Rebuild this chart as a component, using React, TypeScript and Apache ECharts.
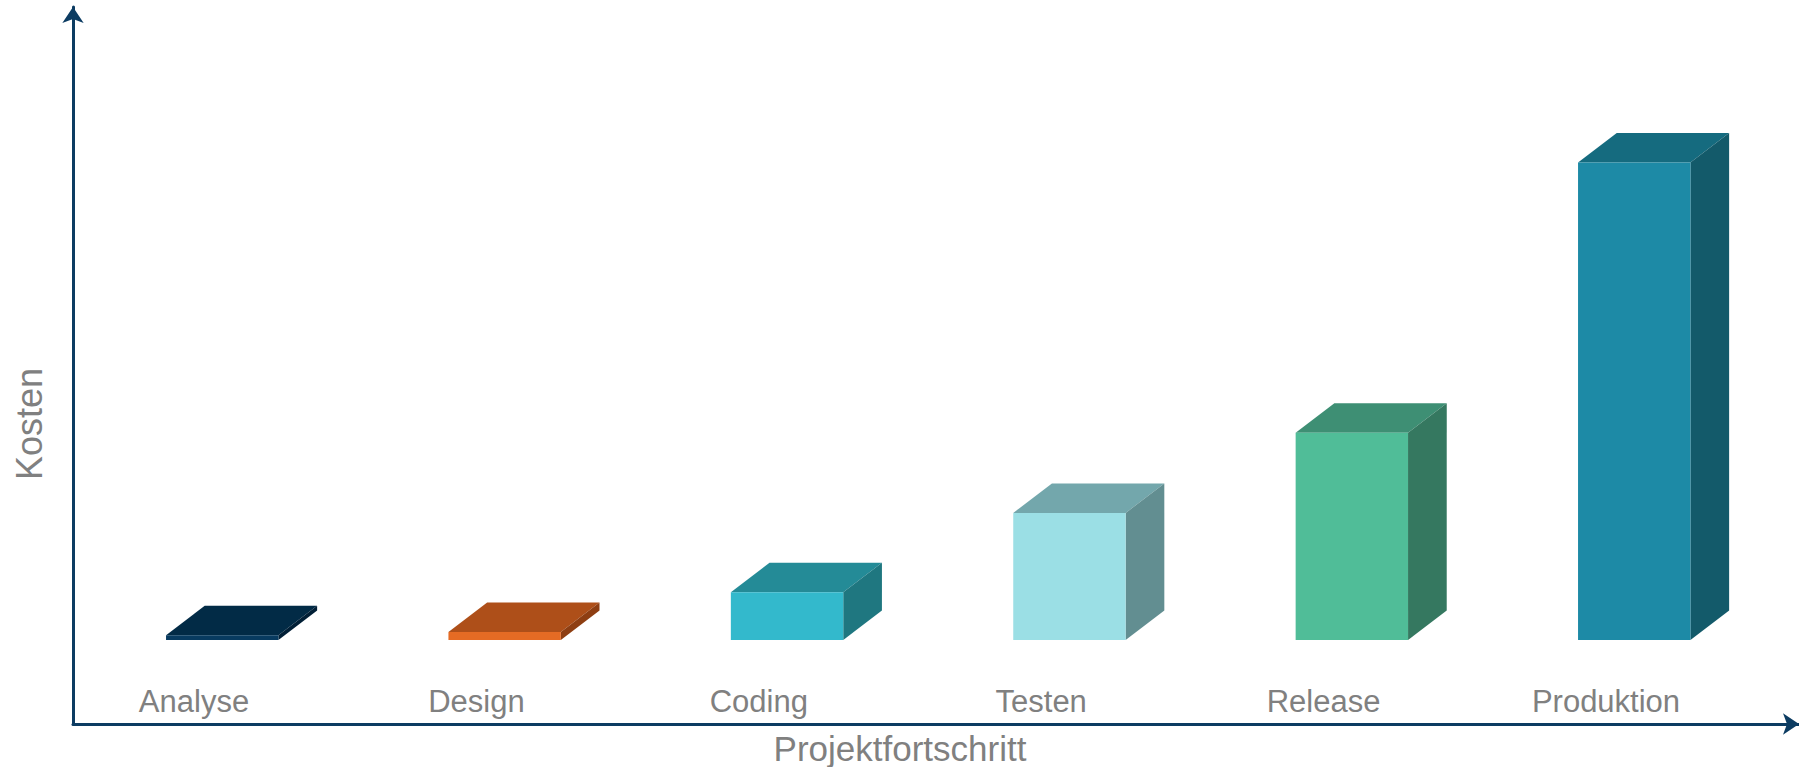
import React, { useEffect, useRef } from "react";
import * as echarts from "echarts";

const categories = ["Analyse", "Design", "Coding", "Testen", "Release", "Produktion"];
const costs = [1, 1.7, 10, 26.6, 43.4, 100];
const frontColors = ["#083b60", "#e56b24", "#33b9cc", "#9bdfe5", "#50bd98", "#1d8aa6"];
const topColors = ["#022b46", "#ae4f19", "#248b97", "#73a7ac", "#3e8f74", "#156b7f"];
const sideColors = ["#011f36", "#8e3e12", "#1f7780", "#628e91", "#357860", "#135a6a"];

const AXIS_COLOR = "#0c3c62";
const TEXT_COLOR = "#808080";
const FONT = "'Liberation Sans', Arial, sans-serif";

export default function App() {
  const ref = useRef<HTMLDivElement>(null);
  useEffect(() => {
    if (!ref.current) return;
    const chart = echarts.init(ref.current, undefined, { renderer: "svg" });
    const option: any = {
      animation: false,
      backgroundColor: "#ffffff",
      grid: [
        { left: 52.8, right: 51.8, top: 43, bottom: 127, containLabel: false, outerBoundsMode: "none" },
        { left: 73, right: 0, top: 7, bottom: 43, containLabel: false, outerBoundsMode: "none" },
      ],
      xAxis: [
        {
          type: "category",
          gridIndex: 0,
          data: categories,
          axisLine: { show: false },
          axisTick: { show: false },
          splitLine: { show: false },
          axisLabel: { color: TEXT_COLOR, fontSize: 31, fontFamily: FONT, margin: 46 },
          name: "Projektfortschritt",
          nameLocation: "middle",
          nameGap: 91,
          nameTextStyle: { color: TEXT_COLOR, fontSize: 35, fontFamily: FONT },
        },
        {
          type: "value",
          gridIndex: 1,
          min: 0,
          max: 1,
          axisLine: {
            show: true,
            onZero: false,
            symbol: ["none", "arrow"],
            symbolSize: [16, 16],
            lineStyle: { color: AXIS_COLOR, width: 3 },
          },
          axisTick: { show: false },
          axisLabel: { show: false },
          splitLine: { show: false },
        },
      ],
      yAxis: [
        { type: "value", gridIndex: 0, min: 0, max: 125, show: false },
        {
          type: "value",
          gridIndex: 1,
          min: 0,
          max: 1,
          axisLine: {
            show: true,
            onZero: false,
            symbol: ["none", "arrow"],
            symbolSize: [16, 16],
            lineStyle: { color: AXIS_COLOR, width: 3 },
          },
          axisTick: { show: false },
          axisLabel: { show: false },
          splitLine: { show: false },
        },
      ],
      graphic: [
        {
          type: "text",
          x: 29,
          y: 424,
          rotation: Math.PI / 2,
          style: {
            text: "Kosten",
            fontSize: 36,
            fontFamily: FONT,
            fill: TEXT_COLOR,
            align: "center",
            verticalAlign: "middle",
          },
        },
      ],
      series: [
        {
          type: "custom",
          xAxisIndex: 0,
          yAxisIndex: 0,
          data: categories.map((_, i) => [i, costs[i]]),
          renderItem: (params: any, api: any) => {
            const idx = api.value(0);
            const val = api.value(1);
            const top = api.coord([idx, val]);
            const base = api.coord([idx, 0]);
            const band = api.size([1, 0])[0];
            const w = band * 0.398;
            const shift = band * 0.1;
            const dx = band * 0.137;
            const dy = 29.5;
            const x0 = top[0] + shift - w / 2;
            const x1 = x0 + w;
            const yT = top[1];
            const yB = base[1];
            return {
              type: "group",
              children: [
                {
                  type: "polygon",
                  shape: { points: [[x0, yT], [x1, yT], [x1 + dx, yT - dy], [x0 + dx, yT - dy]] },
                  style: { fill: topColors[idx] },
                },
                {
                  type: "polygon",
                  shape: { points: [[x1, yT], [x1 + dx, yT - dy], [x1 + dx, yB - dy], [x1, yB]] },
                  style: { fill: sideColors[idx] },
                },
                {
                  type: "rect",
                  shape: { x: x0, y: yT, width: w, height: yB - yT },
                  style: { fill: frontColors[idx] },
                },
              ],
            };
          },
        },
      ],
    };
    chart.setOption(option);
    return () => chart.dispose();
  }, []);
  return (
    <div
      ref={ref}
      style={{ position: "absolute", left: 0, top: 0, width: 1799, height: 767 }}
    />
  );
}
